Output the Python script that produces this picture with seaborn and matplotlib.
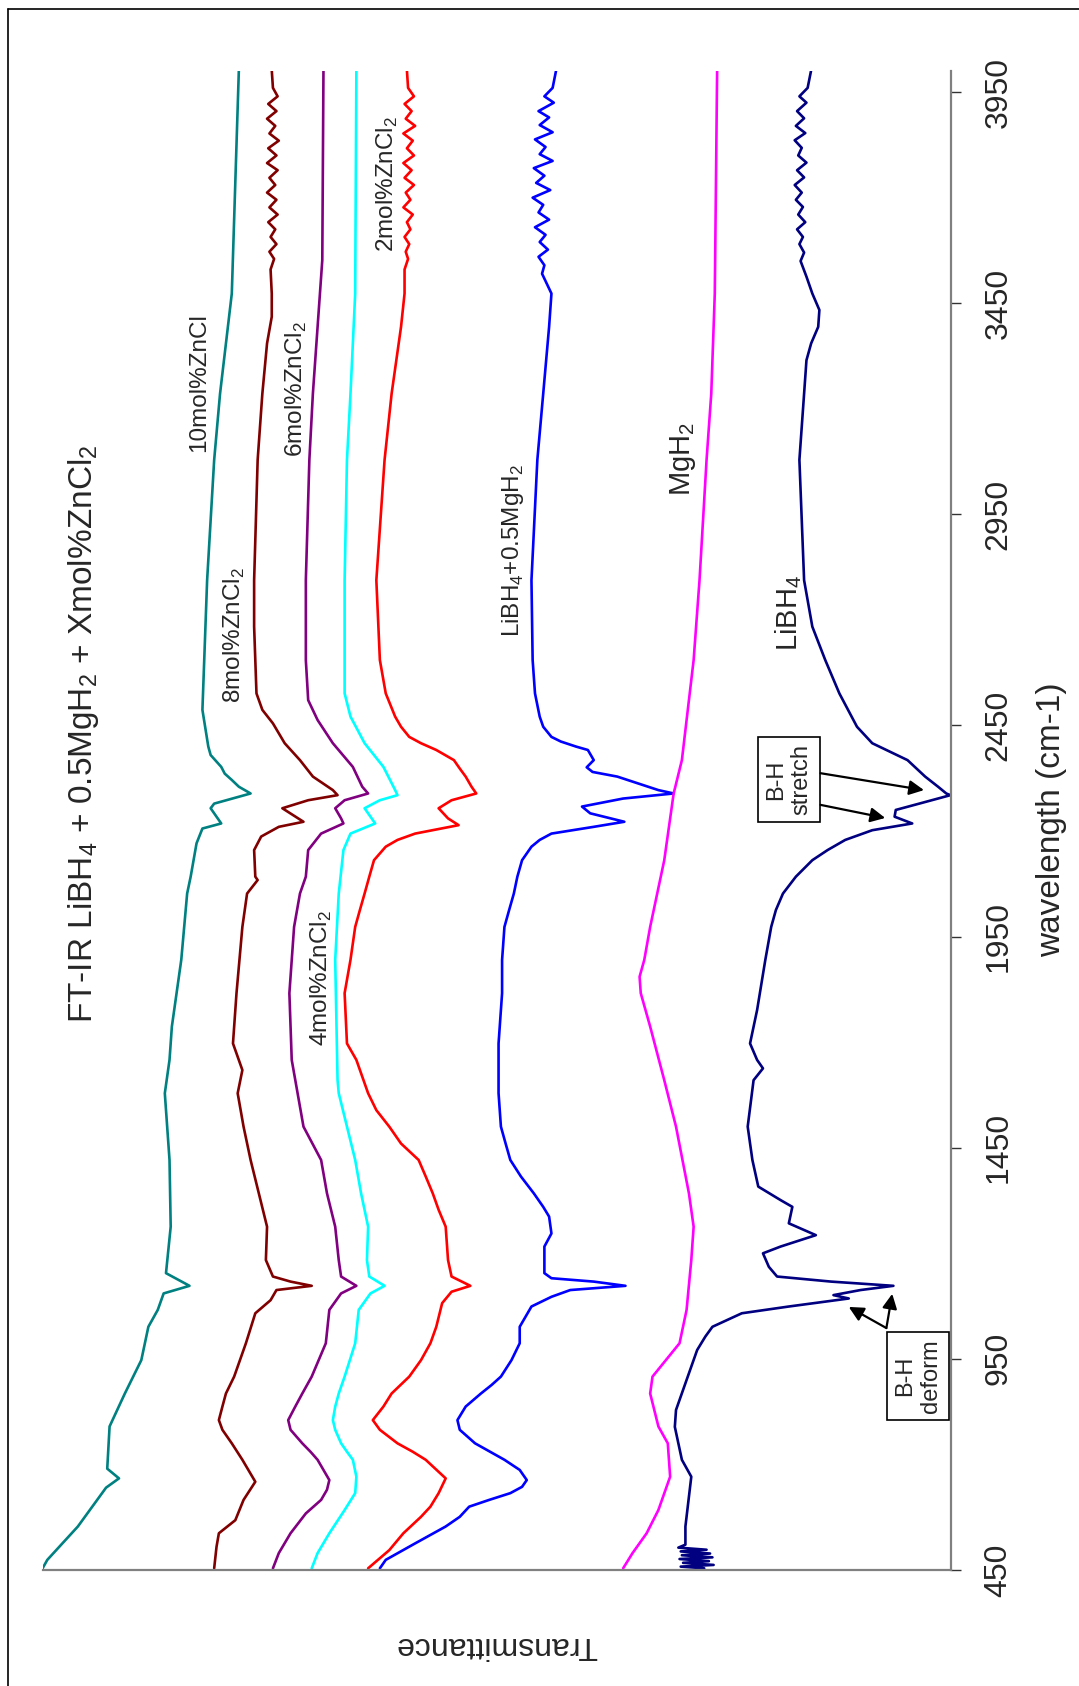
import matplotlib
matplotlib.use("Agg")
import matplotlib.pyplot as plt
import pandas as pd
import seaborn as sns
from matplotlib.lines import Line2D

sns.set_style("white")
plt.rcParams["font.family"] = ["Liberation Sans", "DejaVu Sans"]
plt.rcParams["mathtext.fontset"] = "custom"
plt.rcParams["mathtext.rm"] = "Liberation Sans"

# wavenumber (cm-1) and transmittance (arb. units)
zn10_w = [4002, 3473, 3236, 3079, 2794, 2487, 2400, 2380, 2352, 2336, 2321, 2305, 2289, 2265, 2254,
          2218, 2206, 2171, 2092, 2052, 1895, 1737, 1658, 1579, 1421, 1263, 1153, 1123, 1105, 1066,
          1026, 947, 868, 790, 690, 667, 645, 553, 474, 454]
zn10_t = [60.6, 61.2, 62.2, 62.7, 63.3, 63.7, 63.2, 63.0, 62.1, 61.8, 61.2, 60.6, 59.6, 62.7, 63.0,
          62.1, 63.7, 64.2, 64.7, 65.0, 65.5, 66.3, 66.5, 66.9, 66.5, 66.4, 66.8, 64.8, 67.0, 67.5,
          68.3, 68.9, 70.3, 71.6, 71.8, 70.8, 71.9, 74.3, 76.9, 77.3]

zn8_w = [4002, 3960, 3940, 3922, 3905, 3887, 3870, 3852, 3835, 3817, 3800, 3782, 3765, 3747, 3730,
         3712, 3695, 3677, 3660, 3642, 3625, 3607, 3590, 3572, 3555, 3530, 3473, 3418, 3355, 3236,
         3079, 2794, 2684, 2526, 2487, 2455, 2408, 2368, 2329, 2297, 2285, 2273, 2254, 2222, 2210,
         2187, 2155, 2092, 2084, 2052, 1973, 1816, 1697, 1634, 1579, 1500, 1421, 1342, 1263, 1184,
         1145, 1133, 1123, 1113, 1089, 1058, 987, 908, 868, 837, 805, 782, 750, 711, 659, 616, 568,
         537, 505, 454]
zn8_t = [57.8, 57.7, 57.3, 58.1, 57.4, 58.2, 57.5, 58.0, 57.2, 58.1, 57.4, 58.2, 57.3, 58.0, 57.5,
         58.2, 57.4, 58.0, 57.3, 58.1, 57.5, 57.9, 57.4, 58.0, 57.6, 57.9, 57.8, 57.8, 58.2, 58.6,
         59.0, 59.3, 59.3, 59.1, 58.6, 57.7, 56.7, 55.4, 54.3, 52.6, 52.2, 54.7, 56.9, 55.1, 57.2,
         58.7, 59.3, 59.2, 59.0, 59.9, 60.3, 60.8, 61.1, 60.3, 60.7, 60.2, 59.6, 58.9, 58.2, 58.3,
         57.7, 56.2, 54.4, 57.4, 57.9, 59.2, 60.0, 61.0, 61.7, 62.0, 62.3, 62.0, 61.2, 60.3, 59.2, 60.2, 60.9,
         62.3, 62.5, 62.7]

zn6_w = [4002, 3552, 3394, 3236, 3079, 2794, 2605, 2510, 2463, 2408, 2352, 2305, 2289, 2273, 2254,
         2230, 2218, 2194, 2155, 2092, 2052, 1973, 1816, 1658, 1500, 1421, 1342, 1263, 1184, 1145,
         1123, 1105, 1066, 987, 908, 868, 837, 805, 782, 750, 730, 711, 687, 663, 640, 616, 584,
         537, 490, 454]
zn6_t = [53.4, 53.5, 53.9, 54.3, 54.6, 54.9, 54.9, 54.7, 53.9, 52.6, 50.9, 50.1, 49.6, 51.6, 52.4,
         51.9, 51.7, 53.6, 54.7, 54.9, 55.4, 55.9, 56.3, 56.1, 55.1, 53.6, 53.1, 52.4, 52.1, 51.9,
         50.6, 51.9, 52.9, 53.2, 54.4, 55.2, 55.8, 56.4, 56.2, 55.2, 54.5, 53.9, 53.4, 52.9, 53.1, 53.6, 54.9,
         56.2, 57.2, 57.7]

zn4_w = [4002, 3473, 3236, 3079, 2794, 2526, 2471, 2408, 2352, 2297, 2285, 2273, 2254, 2234, 2218,
         2194, 2155, 2052, 1895, 1610, 1579, 1500, 1421, 1342, 1263, 1184, 1145, 1123, 1105, 1066,
         987, 908, 868, 837, 805, 782, 750, 730, 711, 671, 632, 592, 537, 490, 454]
zn4_t = [50.6, 50.7, 51.1, 51.4, 51.6, 51.6, 51.1, 49.9, 48.3, 47.3, 47.1, 48.6, 49.9, 49.4, 49.0,
         51.1, 51.7, 52.1, 52.4, 52.2, 52.1, 51.4, 50.7, 50.2, 49.6, 49.7, 49.5, 48.2, 49.4, 50.4,
         50.7, 51.6, 52.1, 52.4, 52.6, 52.4, 51.9, 51.4, 50.9, 50.6, 50.7, 51.6, 52.9, 53.9, 54.4]

zn2_w = [4002, 3960, 3940, 3922, 3905, 3887, 3870, 3852, 3835, 3817, 3800, 3782, 3765, 3747, 3730,
         3712, 3695, 3677, 3660, 3642, 3625, 3607, 3590, 3572, 3555, 3530, 3473, 3394, 3236, 3079,
         2794, 2605, 2526, 2471, 2447, 2423, 2408, 2392, 2368, 2348, 2329, 2305, 2289, 2273, 2254,
         2230, 2214, 2194, 2179, 2163, 2131, 2092, 2052, 2013, 1973, 1895, 1816, 1697, 1658, 1579,
         1539, 1500, 1460, 1421, 1382, 1342, 1303, 1263, 1184, 1145, 1123, 1109, 1082, 1026, 987,
         947, 908, 868, 837, 805, 782, 750, 730, 711, 667, 632, 600, 576, 537, 497, 454]
zn2_t = [46.3, 46.2, 45.7, 46.5, 45.9, 46.4, 45.6, 46.6, 45.8, 46.3, 45.7, 46.6, 45.9, 46.5, 45.7,
         46.4, 46.0, 46.6, 45.8, 46.3, 46.0, 46.5, 46.1, 46.4, 46.2, 46.5, 46.5, 46.8, 47.6, 48.2,
         48.9, 48.6, 48.1, 47.3, 46.8, 46.1, 45.1, 43.8, 42.3, 41.8, 41.3, 40.8, 40.4, 42.5, 43.6,
         42.8, 41.9, 45.6, 47.1, 48.1, 49.1, 49.5, 49.9, 50.3, 50.7, 51.1, 51.6, 51.4, 50.6, 49.6,
         48.9, 47.8, 46.8, 45.3, 44.7, 44.1, 43.6, 43.0, 42.8, 42.5, 40.9, 42.5, 43.3, 43.8, 44.3,
         45.1, 46.1, 47.6, 48.3, 49.2, 48.6, 47.1, 45.8, 44.7, 43.0, 43.6, 44.3, 45.1, 46.6, 47.8, 49.6]

mix_w = [4002, 3960, 3940, 3925, 3905, 3890, 3872, 3855, 3838, 3820, 3803, 3787, 3770, 3752, 3735,
         3718, 3700, 3683, 3665, 3648, 3630, 3612, 3595, 3577, 3560, 3540, 3520, 3473, 3394, 3236,
         3079, 2794, 2605, 2526, 2471, 2447, 2423, 2412, 2400, 2392, 2368, 2351, 2340, 2329, 2297,
         2289, 2277, 2258, 2242, 2222, 2210, 2194, 2179, 2163, 2147, 2131, 2092, 2052, 2013, 1973,
         1895, 1816, 1697, 1579, 1500, 1460, 1421, 1382, 1342, 1310, 1287, 1247, 1216, 1153, 1141,
         1133, 1123, 1113, 1097, 1074, 1026, 987, 947, 908, 888, 868, 837, 805, 782, 750, 711, 687,
         663, 647, 632, 616, 600, 576, 553, 513, 474, 454]
mix_t = [33.6, 33.9, 34.6, 33.8, 35.1, 34.2, 35.0, 33.9, 35.4, 34.5, 35.0, 33.9, 35.5, 34.6, 35.3,
         34.1, 35.6, 34.7, 35.1, 34.2, 35.4, 34.5, 35.0, 34.3, 35.1, 34.6, 34.8, 34.0, 34.2, 34.7,
         35.2, 35.7, 35.6, 35.4, 35.0, 34.7, 34.0, 33.2, 31.9, 30.9, 30.4, 31.0, 30.5, 28.4, 24.9,
         23.6, 27.9, 31.4, 30.7, 27.8, 30.4, 34.0, 35.0, 35.7, 36.1, 36.5, 36.9, 37.2, 37.6, 38.0,
         38.2, 38.2, 38.5, 38.5, 38.3, 37.9, 37.5, 36.6, 35.5, 34.7, 34.2, 34.0, 34.6, 34.6, 34.0,
         30.4, 27.7, 32.4, 34.0, 35.7, 36.7, 36.7, 37.4, 38.3, 39.1, 40.0, 41.3, 42.0, 41.8, 40.5, 38.0, 36.7,
         36.1, 36.5, 37.5, 39.3, 41.0, 41.8, 43.0, 45.6, 48.1, 48.6]

mgh2_w = [4002, 3473, 3236, 3079, 2794, 2605, 2368, 2289, 2131, 1973, 1895, 1855, 1816, 1737, 1610,
          1500, 1342, 1263, 1184, 1066, 987, 908, 868, 790, 750, 671, 592, 537, 490, 454]
mgh2_t = [19.9, 20.1, 20.4, 20.8, 21.4, 21.9, 22.9, 23.6, 24.4, 25.6, 26.1, 26.5, 26.4, 25.6, 24.4,
          23.4, 22.3, 21.9, 22.1, 22.5, 23.1, 25.4, 25.6, 24.9, 24.1, 23.9, 24.9, 25.9, 27.1, 27.9]

libh4_w = [4002, 3960, 3940, 3925, 3905, 3888, 3870, 3853, 3836, 3818, 3800, 3783, 3765, 3748, 3730,
           3712, 3695, 3678, 3660, 3642, 3625, 3607, 3590, 3570, 3550, 3513, 3473, 3434, 3394, 3355,
           3315, 3236, 3079, 2794, 2684, 2605, 2526, 2447, 2408, 2388, 2368, 2329, 2305, 2289, 2285,
           2265, 2250, 2234, 2218, 2202, 2179, 2155, 2131, 2092, 2052, 2013, 1973, 1895, 1776, 1697,
           1658, 1638, 1610, 1500, 1421, 1358, 1326, 1310, 1271, 1243, 1216, 1200, 1168, 1145, 1133,
           1123, 1113, 1101, 1093, 1074, 1058, 1026, 1003, 971, 908, 829, 789, 711, 671, 553, 510,
           503, 498, 494, 489, 485, 480, 476, 471, 467, 462, 458, 454]
libh4_t = [11.9, 12.2, 12.9, 12.3, 13.1, 12.5, 13.2, 12.4, 13.3, 12.7, 13.0, 12.3, 13.1, 12.5, 13.3,
           12.7, 13.2, 12.6, 13.0, 12.4, 13.1, 12.6, 12.9, 12.5, 12.8, 12.3, 11.8, 11.2, 11.3, 11.9,
           12.3, 12.5, 12.9, 12.5, 11.8, 10.7, 9.5, 8.0, 6.7, 5.2, 3.7, 2.2, 1.1, 0.4, 0.05,
           2.7, 4.7, 4.8, 3.3, 6.7, 9.0, 10.5, 11.8, 13.2, 14.3, 14.9, 15.3, 15.8, 16.5, 17.1,
           16.5, 16.0, 16.8, 17.3, 16.9, 16.4, 14.5, 13.5, 13.8, 11.5, 14.5, 16.0, 15.5, 14.8, 10.2,
           4.9, 7.7, 10.0, 8.7, 13.8, 17.8, 20.3, 20.9, 21.6, 22.4, 23.4, 23.5, 22.9, 22.1, 22.6, 22.6,
           23.2, 20.8, 23.0, 20.5, 22.9, 20.3, 23.1, 20.6, 22.8, 20.2, 23.0, 21.0]

samples = ["10mol%", "8mol%", "6mol%", "4mol%", "2mol%", "LiBH4+0.5MgH2", "MgH2", "LiBH4"]
colors = ["#008080", "#800000", "#800080", "#00FFFF", "#FF0000", "#0000FF", "#FF00FF", "#000080"]
wn_ticks = [450, 950, 1450, 1950, 2450, 2950, 3450, 3950]

spectra = [(zn10_w, zn10_t), (zn8_w, zn8_t), (zn6_w, zn6_t), (zn4_w, zn4_t), (zn2_w, zn2_t),
           (mix_w, mix_t), (mgh2_w, mgh2_t), (libh4_w, libh4_t)]
rows = []
for name, (ws, ts) in zip(samples, spectra):
    rows += [(name, w, t) for w, t in zip(ws, ts)]
df = pd.DataFrame(rows, columns=["sample", "wavenumber", "trans"])

fig = plt.figure(figsize=(10.79, 16.86), dpi=100)
ax = fig.add_axes([42.6 / 1079, 116 / 1686, (951 - 42.6) / 1079, (1570 - 71) / 1686])

sns.lineplot(data=df, x="trans", y="wavenumber", hue="sample", palette=dict(zip(samples, colors)),
             orient="y", estimator=None, legend=False, lw=1.9, ax=ax)

ax.set_xlim(77.3, 0)
ax.set_ylim(450, 4000)
ax.set_xlabel("")
ax.set_ylabel("")
for s in ["left", "top"]:
    ax.spines[s].set_visible(False)
for s in ["bottom", "right"]:
    ax.spines[s].set_color("#808080")
    ax.spines[s].set_linewidth(1.6)

ax.yaxis.tick_right()
ax.set_yticks(wn_ticks)
ax.set_yticklabels([str(t) for t in wn_ticks], rotation=90, va="center")
ax.tick_params(axis="y", direction="out", length=7.5, width=1, color="#333333", labelsize=23, pad=16)
ax.set_xticks(range(0, 80, 10))
ax.set_xticklabels([])
ax.tick_params(axis="x", direction="out", length=6, width=1, color="#333333")

# curve labels
sub = lambda n: r"$_\mathregular{" + n + "}$"
labels = [("10mol%ZnCl", 64.0, 3263, 17.5), ("8mol%ZnCl" + sub("2"), 61.0, 2664, 17.5),
          ("6mol%ZnCl" + sub("2"), 55.7, 3247, 17.5), ("4mol%ZnCl" + sub("2"), 53.6, 1852, 17.5),
          ("2mol%ZnCl" + sub("2"), 48.0, 3732, 17.5), ("LiBH" + sub("4") + "+0.5MgH" + sub("2"), 37.3, 2865, 17.5),
          ("MgH" + sub("2"), 22.8, 3081, 21), ("LiBH" + sub("4"), 13.8, 2716, 21)]
for txt, t, w, fs in labels:
    ax.text(t, w, txt, rotation=90, ha="center", va="center", fontsize=fs)

# annotation boxes and arrows
box = dict(boxstyle="square,pad=0.3", fc="white", ec="black", lw=1.2)
ax.text(13.8, 2322, "B-H\nstretch", rotation=90, ha="center", va="center", multialignment="center",
        fontsize=17, bbox=box)
ax.text(2.8, 909, "B-H\ndeform", rotation=90, ha="center", va="center", multialignment="center",
        fontsize=17, bbox=box)
arrow = dict(arrowstyle="-|>", color="black", lw=1.6, mutation_scale=22, shrinkA=0, shrinkB=0)
ax.annotate("", xy=(2.3, 2297), xytext=(11.1, 2337), arrowprops=arrow)
ax.annotate("", xy=(5.6, 2231), xytext=(11.1, 2262), arrowprops=arrow)
ax.annotate("", xy=(8.7, 1073), xytext=(5.5, 1023), arrowprops=arrow)
ax.annotate("", xy=(5.0, 1104), xytext=(5.5, 1023), arrowprops=arrow)

fig.text(84 / 1079, 1 - 734 / 1686,
         "FT-IR LiBH" + sub("4") + " + 0.5MgH" + sub("2") + " + Xmol%ZnCl" + sub("2"),
         rotation=90, ha="center", va="center", fontsize=24)
fig.text(1052 / 1079, 1 - 820 / 1686, "wavelength (cm-1)", rotation=90, ha="center", va="center", fontsize=24)
fig.text(496 / 1079, 1 - 1645 / 1686, "Transmittance", rotation=180, ha="center", va="center", fontsize=23)

# outer frame
fig.add_artist(Line2D([8 / 1079, 8 / 1079], [0, 1 - 9 / 1686], transform=fig.transFigure, color="black", lw=1.2))
fig.add_artist(Line2D([8 / 1079, 1], [1 - 9 / 1686, 1 - 9 / 1686], transform=fig.transFigure, color="black", lw=1.2))

fig.savefig("out.png", dpi=100)
